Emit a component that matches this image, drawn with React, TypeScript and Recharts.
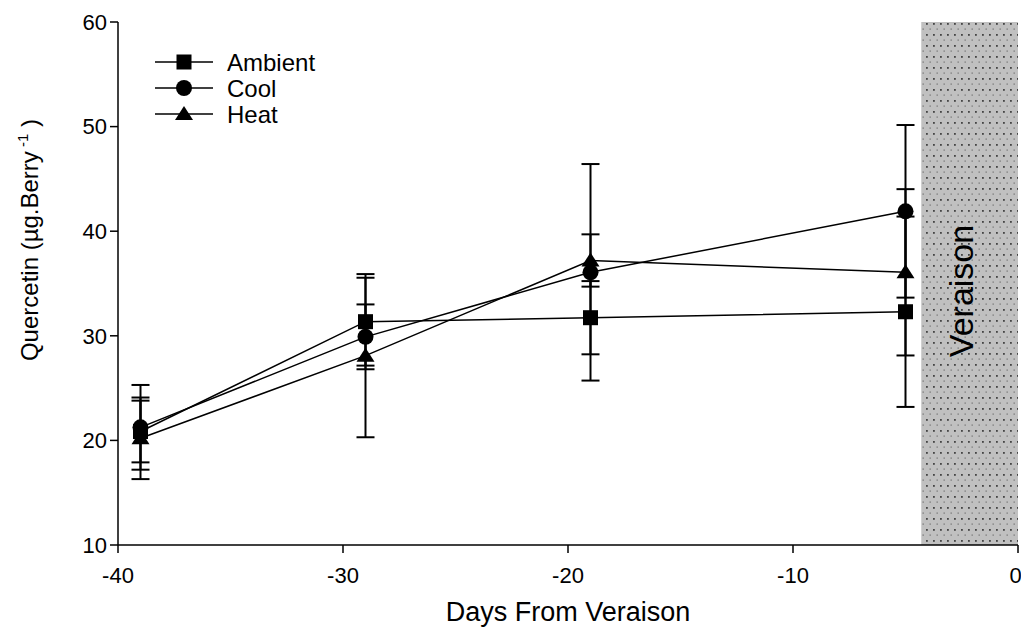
import React from "react";
import {
    ComposedChart,
    Line,
    XAxis,
    YAxis,
    ErrorBar,
    ReferenceArea,
    Legend,
} from "recharts";

// --- Data ---

const DAYS = [-39, -29, -19, -5];

const AMBIENT = [20.85, 31.35, 31.73, 32.3];
const AMBIENT_ERR = [2.95, 4.2, 3.5, 9.1];

const COOL = [21.25, 29.9, 36.07, 41.9];
const COOL_ERR = [4.05, 3.1, 10.35, 8.25];

const HEAT = [20.2, 28.1, 37.2, 36.07];
const HEAT_ERR = [3.9, 7.8, 2.5, 7.95];

const X_TICKS = [-40, -30, -20, -10, 0];
const Y_TICKS = [10, 20, 30, 40, 50, 60];

const VERAISON_START = -4.3;
const VERAISON_END = 0;

const SERIES_NAMES = ["Ambient", "Cool", "Heat"];

// --- Constants ---

const WIDTH = 1021;
const HEIGHT = 631;
const FONT = "Arial, 'Liberation Sans', Helvetica, sans-serif";
const TICK_FONT_SIZE = 22;
const LINE_WIDTH = 1.5;

const rows = DAYS.map((day, i) => ({
    day,
    ambient: AMBIENT[i],
    ambientErr: AMBIENT_ERR[i],
    cool: COOL[i],
    coolErr: COOL_ERR[i],
    heat: HEAT[i],
    heatErr: HEAT_ERR[i],
}));

// --- Markers ---

type MarkerProps = { cx?: number; cy?: number; index?: number };

function SquareMark({ cx = 0, cy = 0 }: MarkerProps)
{
    return <rect x={cx - 7.5} y={cy - 7.5} width={15} height={15} fill="#000" />;
}

function CircleMark({ cx = 0, cy = 0 }: MarkerProps)
{
    return <circle cx={cx} cy={cy} r={8} fill="#000" />;
}

function TriangleMark({ cx = 0, cy = 0 }: MarkerProps)
{
    return (
        <polygon
            points={`${cx},${cy - 8} ${cx + 9},${cy + 6} ${cx - 9},${cy + 6}`}
            fill="#000"
        />
    );
}

const MARKS = [SquareMark, CircleMark, TriangleMark];

// --- Legend ---

function ChartLegend()
{
    return (
        <svg width={220} height={84} style={{ display: "block" }}>
            {SERIES_NAMES.map((name, i) =>
            {
                const y = 14 + i * 26;
                const Mark = MARKS[i];
                return (
                    <g key={name}>
                        <line x1={5} x2={63} y1={y} y2={y} stroke="#000" strokeWidth={LINE_WIDTH} />
                        <Mark cx={34} cy={y} />
                        <text
                            x={77}
                            y={y}
                            dy="0.36em"
                            fontSize={24}
                            fontFamily={FONT}
                            fill="#000"
                        >
                            {name}
                        </text>
                    </g>
                );
            })}
        </svg>
    );
}

// --- Component ---

export default function App()
{
    return (
        <div style={{ position: "absolute", left: 0, top: 0, width: WIDTH, height: HEIGHT, background: "#fff" }}>
            <ComposedChart
                width={WIDTH}
                height={HEIGHT}
                data={rows}
                margin={{ top: 22, right: 3, left: 0, bottom: 0 }}
            >
                <defs>
                    <pattern id="veraisonDots" width={7} height={11} patternUnits="userSpaceOnUse">
                        <rect width={7} height={11} fill="#c0c0c0" />
                        <rect x={2} y={1} width={1.8} height={1.8} fill="#444" />
                        <rect x={5.5} y={6.5} width={1.4} height={1.2} fill="#777" />
                    </pattern>
                </defs>

                <ReferenceArea
                    x1={VERAISON_START}
                    x2={VERAISON_END}
                    y1={10}
                    y2={60}
                    fill="url(#veraisonDots)"
                    fillOpacity={1}
                    stroke="none"
                    ifOverflow="hidden"
                    label={{
                        content: () => (
                            <text
                                transform="translate(973,291) rotate(-90)"
                                textAnchor="middle"
                                fontSize={34}
                                fontFamily={FONT}
                                fill="#000"
                            >
                                Veraison
                            </text>
                        ),
                    }}
                />

                <XAxis
                    xAxisId="top"
                    orientation="top"
                    type="number"
                    dataKey="day"
                    domain={[-40, 0]}
                    height={0}
                    tick={false}
                    tickLine={false}
                    axisLine={{ stroke: "#000", strokeWidth: 1.5 }}
                />
                <XAxis
                    type="number"
                    dataKey="day"
                    domain={[-40, 0]}
                    ticks={X_TICKS}
                    height={86}
                    tickSize={8}
                    tickMargin={14}
                    tick={{ fontSize: TICK_FONT_SIZE, fill: "#000", fontFamily: FONT }}
                    tickLine={{ stroke: "#000", strokeWidth: 1.5 }}
                    axisLine={{ stroke: "#000", strokeWidth: 1.5 }}
                    label={{
                        content: () => (
                            <text
                                x={568}
                                y={621}
                                textAnchor="middle"
                                fontSize={27}
                                fontFamily={FONT}
                                fill="#000"
                            >
                                Days From Veraison
                            </text>
                        ),
                    }}
                />
                <YAxis
                    type="number"
                    domain={[10, 60]}
                    ticks={Y_TICKS}
                    width={118}
                    tickSize={8}
                    tickMargin={3}
                    tick={{ fontSize: TICK_FONT_SIZE, fill: "#000", fontFamily: FONT }}
                    tickLine={{ stroke: "#000", strokeWidth: 1.5 }}
                    axisLine={{ stroke: "#000", strokeWidth: 1.5 }}
                    label={{
                        content: () => (
                            <text
                                transform="translate(38,240) rotate(-90)"
                                textAnchor="middle"
                                fontSize={24}
                                fontFamily={FONT}
                                fill="#000"
                            >
                                Quercetin (µg.Berry
                                <tspan dy={-10} fontSize={15}> -1</tspan>
                                <tspan dy={10}> )</tspan>
                            </text>
                        ),
                    }}
                />

                <Legend
                    layout="horizontal"
                    verticalAlign="middle"
                    align="center"
                    wrapperStyle={{ position: "absolute", left: 150, top: 48, width: 220, height: 84 }}
                    content={() => <ChartLegend />}
                />

                <Line
                    dataKey="ambient"
                    name="Ambient"
                    stroke="#000"
                    strokeWidth={LINE_WIDTH}
                    isAnimationActive={false}
                    dot={(p: MarkerProps) => <SquareMark key={`a${p.index}`} cx={p.cx} cy={p.cy} />}
                    activeDot={false}
                >
                    <ErrorBar dataKey="ambientErr" direction="y" width={9} stroke="#000" strokeWidth={2} />
                </Line>
                <Line
                    dataKey="cool"
                    name="Cool"
                    stroke="#000"
                    strokeWidth={LINE_WIDTH}
                    isAnimationActive={false}
                    dot={(p: MarkerProps) => <CircleMark key={`c${p.index}`} cx={p.cx} cy={p.cy} />}
                    activeDot={false}
                >
                    <ErrorBar dataKey="coolErr" direction="y" width={9} stroke="#000" strokeWidth={2} />
                </Line>
                <Line
                    dataKey="heat"
                    name="Heat"
                    stroke="#000"
                    strokeWidth={LINE_WIDTH}
                    isAnimationActive={false}
                    dot={(p: MarkerProps) => <TriangleMark key={`h${p.index}`} cx={p.cx} cy={p.cy} />}
                    activeDot={false}
                >
                    <ErrorBar dataKey="heatErr" direction="y" width={9} stroke="#000" strokeWidth={2} />
                </Line>
            </ComposedChart>
        </div>
    );
}
